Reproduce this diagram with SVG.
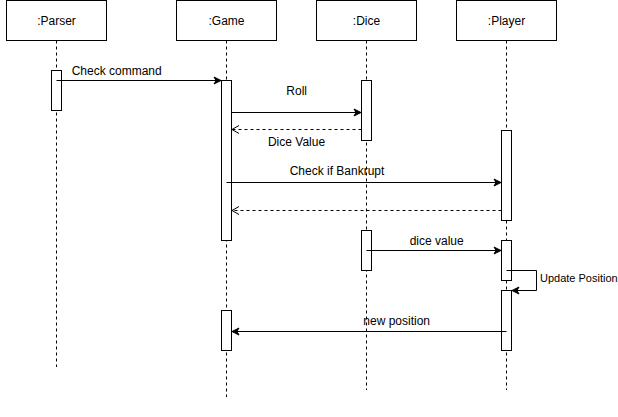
<svg xmlns="http://www.w3.org/2000/svg" width="618" height="417" viewBox="0 0 618 417">
<style>
.hdr{fill:#fff;stroke:#000;stroke-width:1}
.life{fill:none;stroke:#000;stroke-width:1;stroke-dasharray:3 3}
.act{fill:#fff;stroke:#000;stroke-width:1}
.msg{fill:none;stroke:#000;stroke-width:1}
.ret{fill:none;stroke:#000;stroke-width:1;stroke-dasharray:3 3}
text{font-family:"Liberation Sans",Arial,sans-serif;font-size:12px;fill:#000}
.t{text-anchor:middle}
.s{font-size:11px}
</style>
<defs>
<marker id="block" viewBox="-8 -5 10 10" refX="0" refY="0" markerWidth="10" markerHeight="10" orient="auto" markerUnits="userSpaceOnUse">
<path d="M-7,-3.5 L0,0 L-7,3.5 L-5,0 Z" fill="#000" stroke="#000" stroke-width="1"/>
</marker>
<marker id="open" viewBox="-10 -6 12 12" refX="0" refY="0" markerWidth="12" markerHeight="12" orient="auto" markerUnits="userSpaceOnUse">
<path d="M-7,-4 L0,0 L-7,4" fill="none" stroke="#000" stroke-width="1"/>
</marker>
</defs>
<g id="parser">
<rect class="hdr" x="6.5" y="0.5" width="100" height="40"/>
<text class="t" x="56.5" y="24.5">:Parser</text>
<line class="life" x1="56.5" y1="40.5" x2="56.5" y2="367"/>
<rect class="act" x="51.5" y="70.5" width="10" height="40"/>
</g>
<g id="game">
<rect class="hdr" x="176.5" y="0.5" width="100" height="40"/>
<text class="t" x="226.5" y="24.5">:Game</text>
<line class="life" x1="226.5" y1="40.5" x2="226.5" y2="397"/>
<rect class="act" x="221.5" y="80.5" width="10" height="160"/>
<rect class="act" x="221.5" y="310.5" width="10" height="40"/>
</g>
<g id="dice">
<rect class="hdr" x="316.5" y="0.5" width="100" height="40"/>
<text class="t" x="366.5" y="24.5">:Dice</text>
<line class="life" x1="366.5" y1="40.5" x2="366.5" y2="390"/>
<rect class="act" x="361.5" y="80.5" width="10" height="60"/>
<rect class="act" x="361.5" y="230.5" width="10" height="40"/>
</g>
<g id="player">
<rect class="hdr" x="456.5" y="0.5" width="100" height="40"/>
<text class="t" x="506.5" y="24.5">:Player</text>
<line class="life" x1="506.5" y1="40.5" x2="506.5" y2="390"/>
<rect class="act" x="501.5" y="130.5" width="10" height="90"/>
<rect class="act" x="501.5" y="240.5" width="10" height="40"/>
<rect class="act" x="501.5" y="290.5" width="10" height="60"/>
</g>
<g id="connectors">
<line class="msg" x1="56.5" y1="80.5" x2="221" y2="80.5" marker-end="url(#block)"/>
<text class="t" x="116.7" y="75">Check command</text>
<line class="msg" x1="231.5" y1="112.5" x2="361" y2="112.5" marker-end="url(#block)"/>
<text class="t" x="296.7" y="95">Roll</text>
<line class="ret" x1="361.5" y1="129.5" x2="232" y2="129.5" marker-end="url(#open)"/>
<text class="t" x="296.5" y="145.5">Dice Value</text>
<line class="msg" x1="226.5" y1="182.5" x2="501" y2="182.5" marker-end="url(#block)"/>
<text class="t" x="337" y="174.5">Check if Bankrupt</text>
<line class="ret" x1="501.5" y1="210.5" x2="232" y2="210.5" marker-end="url(#open)"/>
<line class="msg" x1="366.5" y1="250.5" x2="501" y2="250.5" marker-end="url(#block)"/>
<text class="t" x="436.7" y="245">dice value</text>
<polyline class="msg" points="506.5,270.5 536.5,270.5 536.5,290.5 512,290.5" marker-end="url(#block)"/>
<text class="s" x="540" y="282">Update Position</text>
<line class="msg" x1="506.5" y1="331.5" x2="232" y2="331.5" marker-end="url(#block)"/>
<text class="t" x="396.7" y="325">new position</text>
</g>
</svg>
